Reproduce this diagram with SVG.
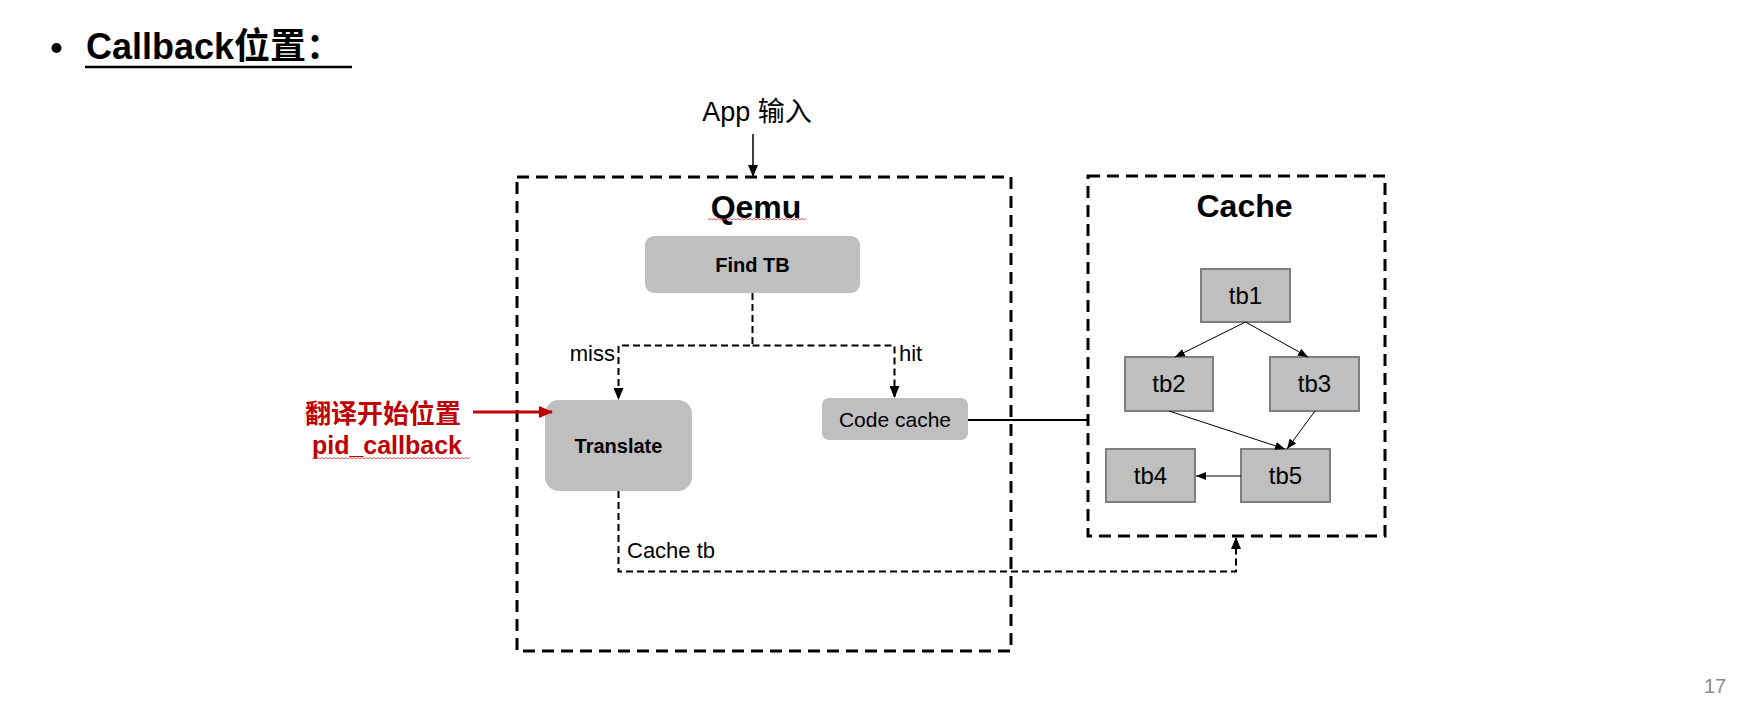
<svg xmlns="http://www.w3.org/2000/svg" width="1748" height="721" viewBox="0 0 1748 721">
<defs>
<style>
text{font-family:"Liberation Sans","Noto Sans CJK SC",sans-serif;fill:#000}
.frame{fill:none;stroke:#000;stroke-width:3;stroke-dasharray:12 7}
.box{fill:#BFBFBF}
.tb{fill:#BFBFBF;stroke:#7F7F7F;stroke-width:2}
.dash{fill:none;stroke:#000;stroke-width:2;stroke-dasharray:7 4}
.thin{fill:none;stroke:#000;stroke-width:1}
.lbl{font-size:22px}
.tbt{font-size:24px;text-anchor:middle}
.red{fill:#C00000;font-weight:bold}
.squig{fill:none;stroke:#E03030;stroke-width:0.8}
</style>
<marker id="ah" markerUnits="userSpaceOnUse" markerWidth="12" markerHeight="10" refX="11" refY="5" orient="auto">
<path d="M0,0 L12,5 L0,10 Z" fill="#000"/>
</marker>
<marker id="ahs" markerUnits="userSpaceOnUse" markerWidth="10" markerHeight="8" refX="10" refY="4" orient="auto">
<path d="M0,0 L10,4 L0,8 Z" fill="#000"/>
</marker>
<marker id="ahr" markerUnits="userSpaceOnUse" markerWidth="14" markerHeight="12" refX="13" refY="6" orient="auto">
<path d="M0,0 L14,6 L0,12 Z" fill="#C00000"/>
</marker>
</defs>
<rect width="1748" height="721" fill="#fff"/>

<g id="title">
<circle cx="56.5" cy="48" r="5"/>
<text x="86" y="59" font-size="36" font-weight="bold">Callback位置：</text>
<line x1="85" y1="67" x2="352" y2="67" stroke="#000" stroke-width="2.5"/>
</g>

<g id="app-input">
<text x="757" y="121" font-size="27" text-anchor="middle">App 输入</text>
</g>

<g id="qemu">
<rect class="frame" x="517" y="177" width="494" height="474"/>
<text x="756" y="218" font-size="32" font-weight="bold" text-anchor="middle">Qemu</text>
<path class="squig" d="M708,220 l2,-1.5 l2,1.5 l2,-1.5 l2,1.5 l2,-1.5 l2,1.5 l2,-1.5 l2,1.5 l2,-1.5 l2,1.5 l2,-1.5 l2,1.5 l2,-1.5 l2,1.5 l2,-1.5 l2,1.5 l2,-1.5 l2,1.5 l2,-1.5 l2,1.5 l2,-1.5 l2,1.5 l2,-1.5 l2,1.5 l2,-1.5 l2,1.5 l2,-1.5 l2,1.5 l2,-1.5 l2,1.5 l2,-1.5 l2,1.5 l2,-1.5 l2,1.5 l2,-1.5 l2,1.5 l2,-1.5 l2,1.5 l2,-1.5 l2,1.5 l2,-1.5 l2,1.5 l2,-1.5 l2,1.5 l2,-1.5 l2,1.5 l2,-1.5 l2,1.5 l2,-1.5"/>
</g>

<g id="find-tb">
<rect class="box" x="645" y="236" width="215" height="57" rx="9"/>
<text x="752.5" y="272" font-size="20" font-weight="bold" text-anchor="middle">Find TB</text>
</g>

<g id="translate">
<rect class="box" x="545" y="400" width="147" height="91" rx="14"/>
<text x="618.5" y="453" font-size="20" font-weight="bold" text-anchor="middle">Translate</text>
</g>

<g id="code-cache">
<rect class="box" x="822" y="398" width="146" height="42" rx="7"/>
<text x="895" y="427" font-size="21" text-anchor="middle">Code cache</text>
</g>

<g id="cache">
<rect class="frame" x="1088" y="176" width="297" height="360"/>
<text x="1244.5" y="217" font-size="32" font-weight="bold" text-anchor="middle">Cache</text>
</g>

<g id="tb1"><rect class="tb" x="1201" y="269" width="89" height="53"/><text class="tbt" x="1245.5" y="304">tb1</text></g>
<g id="tb2"><rect class="tb" x="1125" y="357" width="88" height="54"/><text class="tbt" x="1169" y="392">tb2</text></g>
<g id="tb3"><rect class="tb" x="1270" y="357" width="89" height="54"/><text class="tbt" x="1314.5" y="392">tb3</text></g>
<g id="tb4"><rect class="tb" x="1106" y="449" width="89" height="53"/><text class="tbt" x="1150.5" y="484">tb4</text></g>
<g id="tb5"><rect class="tb" x="1241" y="449" width="89" height="53"/><text class="tbt" x="1285.5" y="484">tb5</text></g>

<g id="callback-note">
<text class="red" x="461" y="423" font-size="26" text-anchor="end">翻译开始位置</text>
<text class="red" x="462" y="454" font-size="25" text-anchor="end">pid_callback</text>
<path class="squig" d="M312,459 l2,-1.5 l2,1.5 l2,-1.5 l2,1.5 l2,-1.5 l2,1.5 l2,-1.5 l2,1.5 l2,-1.5 l2,1.5 l2,-1.5 l2,1.5 l2,-1.5 l2,1.5 l2,-1.5 l2,1.5 l2,-1.5 l2,1.5 l2,-1.5 l2,1.5 l2,-1.5 l2,1.5 l2,-1.5 l2,1.5 l2,-1.5 l2,1.5 l2,-1.5 l2,1.5 l2,-1.5 l2,1.5 l2,-1.5 l2,1.5 l2,-1.5 l2,1.5 l2,-1.5 l2,1.5 l2,-1.5 l2,1.5 l2,-1.5 l2,1.5 l2,-1.5 l2,1.5 l2,-1.5 l2,1.5 l2,-1.5 l2,1.5 l2,-1.5 l2,1.5 l2,-1.5 l2,1.5 l2,-1.5 l2,1.5 l2,-1.5 l2,1.5 l2,-1.5 l2,1.5 l2,-1.5 l2,1.5 l2,-1.5 l2,1.5 l2,-1.5 l2,1.5 l2,-1.5 l2,1.5 l2,-1.5 l2,1.5 l2,-1.5 l2,1.5 l2,-1.5 l2,1.5 l2,-1.5 l2,1.5 l2,-1.5 l2,1.5 l2,-1.5 l2,1.5 l2,-1.5 l2,1.5 l2,-1.5"/>
</g>

<g id="connectors">
<line x1="753" y1="134" x2="753" y2="176" stroke="#000" stroke-width="1.5" marker-end="url(#ah)"/>
<path class="dash" d="M752.5,293 V345.5 H618.5 V399" marker-end="url(#ah)"/>
<path class="dash" d="M752.5,345.5 H894.5 V397" marker-end="url(#ah)"/>
<text class="lbl" x="615" y="361" text-anchor="end">miss</text>
<text class="lbl" x="899" y="361">hit</text>
<line x1="968" y1="420" x2="1088" y2="420" stroke="#000" stroke-width="2"/>
<path class="dash" d="M618.5,491 V571.5 H1236 V538" marker-end="url(#ah)"/>
<text class="lbl" x="627" y="558">Cache tb</text>
<line x1="473" y1="412" x2="552" y2="412" stroke="#C00000" stroke-width="3" marker-end="url(#ahr)"/>
<line class="thin" x1="1245.5" y1="322" x2="1175" y2="357" marker-end="url(#ahs)"/>
<line class="thin" x1="1245.5" y1="322" x2="1308" y2="357" marker-end="url(#ahs)"/>
<line class="thin" x1="1169" y1="411" x2="1285" y2="449" marker-end="url(#ahs)"/>
<line class="thin" x1="1315" y1="411" x2="1287" y2="449" marker-end="url(#ahs)"/>
<line class="thin" x1="1241" y1="476" x2="1196" y2="476" marker-end="url(#ahs)"/>
</g>

<text x="1704" y="693" font-size="20" fill="#8B8B8B" style="fill:#8B8B8B">17</text>
</svg>
